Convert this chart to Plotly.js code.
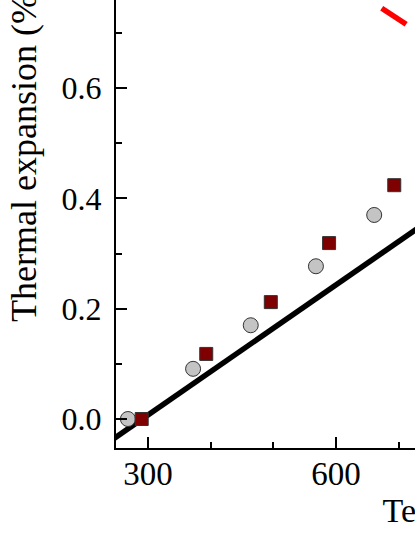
<!DOCTYPE html>
<html>
<head>
<meta charset="utf-8">
<script src="https://cdn.plot.ly/plotly-3.0.1.min.js"></script>
<style>
  html, body { margin: 0; padding: 0; overflow: hidden; background: #fff; }
  #chart { position: absolute; left: 0; top: -160px; }
</style>
</head>
<body>
<div id="chart"></div>
<script>
// measured points (temperature in K, expansion in %)
var tempCircle = [268, 372, 464, 568, 661];
var expCircle = [0.0, 0.091, 0.170, 0.277, 0.370];

var tempSquare = [290, 393, 496, 589, 693];
var expSquare = [0.0, 0.118, 0.212, 0.319, 0.424];

// straight fit line
var tempFit = [230, 1000];
var expFit = [-0.048, 0.558];

// red line piece at the top
var tempRed = [673, 712];
var expRed = [0.745, 0.716];

var serif = 'Liberation Serif, Times New Roman, serif';

var data = [
    {x: tempFit, y: expFit, type: 'scatter', mode: 'lines',
        line: {color: '#000000', width: 5.5}, name: 'fit'},
    {x: tempRed, y: expRed, type: 'scatter', mode: 'lines',
        line: {color: '#ff0000', width: 5.5}, name: 'red'},
    {x: tempCircle, y: expCircle, type: 'scatter', mode: 'markers', name: 'circles',
        marker: {symbol: 'circle', size: 15, color: '#c4c4c4', line: {color: '#333333', width: 1}}},
    {x: tempSquare, y: expSquare, type: 'scatter', mode: 'markers', name: 'squares',
        marker: {symbol: 'square', size: 13, color: '#7f0000', line: {color: '#333333', width: 1}}}
];

var layout = {
    width: 896,
    height: 708,
    margin: {l: 116, r: 20, t: 16, b: 100},
    showlegend: false,
    paper_bgcolor: '#ffffff',
    plot_bgcolor: '#ffffff',
    font: {family: serif, color: '#000000', size: 32},
    xaxis: {
        range: [249, 1461.7],
        tick0: 0, dtick: 300,
        ticks: 'inside', ticklen: 11, tickwidth: 2, tickcolor: '#000',
        minor: {tick0: 0, dtick: 100, ticks: 'inside', ticklen: 6, tickwidth: 2, tickcolor: '#000'},
        showline: true, linewidth: 2, linecolor: '#000',
        showgrid: false, zeroline: false,
        ticklabelstandoff: -5,
        tickfont: {family: serif, size: 33},
        title: {text: 'Temperature (K)', font: {family: serif, size: 34}, standoff: 8}
    },
    yaxis: {
        range: [-0.0526, 1.021],
        tick0: 0, dtick: 0.2, tickformat: '.1f',
        ticks: 'inside', ticklen: 11, tickwidth: 2, tickcolor: '#000',
        minor: {tick0: 0, dtick: 0.1, ticks: 'inside', ticklen: 6, tickwidth: 2, tickcolor: '#000'},
        showline: true, linewidth: 2, linecolor: '#000',
        showgrid: false, zeroline: false,
        ticklabelstandoff: 6,
        tickfont: {family: serif, size: 32},
        title: {text: 'Thermal expansion (%)', font: {family: serif, size: 36}, standoff: 14}
    }
};

var CHART = document.getElementById('chart');
Plotly.newPlot(CHART, data, layout, {displayModeBar: false, staticPlot: true});
</script>
</body>
</html>
